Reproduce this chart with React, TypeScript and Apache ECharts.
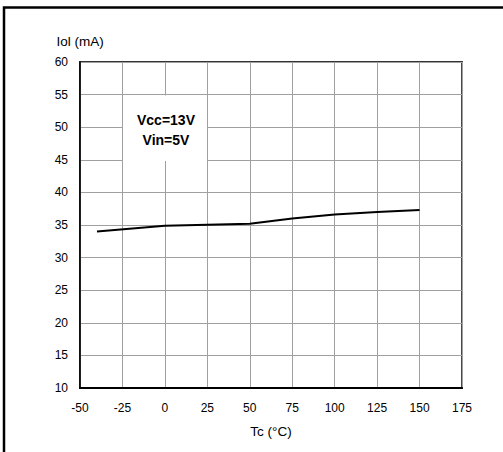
import React, { useEffect, useRef } from "react";
import * as echarts from "echarts";

const temperatures = [-40, 0, 50, 75, 100, 125, 150];
const iolValues = [34.0, 34.9, 35.2, 36.0, 36.6, 37.0, 37.3];
const xTicks = { min: -50, max: 175, interval: 25 };
const yTicks = { min: 10, max: 60, interval: 5 };
const annotationLines = ["Vcc=13V", "Vin=5V"];

export default function App() {
  const ref = useRef<HTMLDivElement>(null);
  useEffect(() => {
    document.body.style.margin = "0";
    const chart = echarts.init(ref.current!, null, { renderer: "svg" });
    const font = "Liberation Sans, Arial, sans-serif";
    chart.setOption({
      animation: false,
      backgroundColor: "#ffffff",
      grid: {
        left: 80,
        right: 41,
        top: 62,
        bottom: 64,
        show: true,
        borderColor: "#333333",
        borderWidth: 1.8,
        backgroundColor: "transparent",
      },
      xAxis: {
        type: "value",
        min: xTicks.min,
        max: xTicks.max,
        interval: xTicks.interval,
        name: "Tc (°C)",
        nameLocation: "middle",
        nameGap: 36,
        nameTextStyle: { color: "#000", fontSize: 13.5, fontFamily: font },
        axisLine: { show: true, onZero: false, lineStyle: { color: "#000", width: 2.2 } },
        axisTick: { show: false },
        axisLabel: { color: "#000", fontSize: 12, fontFamily: font, margin: 14 },
        splitLine: { show: true, lineStyle: { color: "#a0a0a0", width: 1 } },
      },
      yAxis: {
        type: "value",
        min: yTicks.min,
        max: yTicks.max,
        interval: yTicks.interval,
        name: "Iol (mA)",
        nameLocation: "end",
        nameGap: 14,
        nameTextStyle: { color: "#000", fontSize: 13.5, fontFamily: font },
        axisLine: { show: true, onZero: false, lineStyle: { color: "#000", width: 1.6 } },
        axisTick: { show: false },
        axisLabel: { color: "#000", fontSize: 12, fontFamily: font, margin: 12 },
        splitLine: { show: true, lineStyle: { color: "#a0a0a0", width: 1 } },
      },
      series: [
        {
          type: "line",
          data: temperatures.map((t, i) => [t, iolValues[i]]),
          showSymbol: false,
          symbol: "none",
          lineStyle: { color: "#000", width: 2 },
          z: 5,
        },
      ],
      graphic: [
        {
          type: "rect",
          left: 1.5,
          top: 5,
          z: 100,
          shape: { x: 0, y: 0, width: 540, height: 480 },
          style: { fill: "none", stroke: "#000", lineWidth: 2.5 },
          silent: true,
        },
        {
          type: "rect",
          z: 100,
          shape: { x: 123, y: 95.5, width: 84, height: 65.5 },
          style: { fill: "#ffffff", stroke: "none" },
          silent: true,
        },
        {
          type: "text",
          z: 101,
          x: 166,
          y: 120,
          style: {
            text: annotationLines[0],
            fill: "#000",
            font: "bold 14px " + font,
            textAlign: "center",
            textVerticalAlign: "middle",
          },
        },
        {
          type: "text",
          z: 101,
          x: 166,
          y: 140,
          style: {
            text: annotationLines[1],
            fill: "#000",
            font: "bold 14px " + font,
            textAlign: "center",
            textVerticalAlign: "middle",
          },
        },
      ],
    });
    return () => chart.dispose();
  }, []);
  return (
    <div
      ref={ref}
      style={{ position: "absolute", left: 0, top: 0, width: 503, height: 452 }}
    />
  );
}
